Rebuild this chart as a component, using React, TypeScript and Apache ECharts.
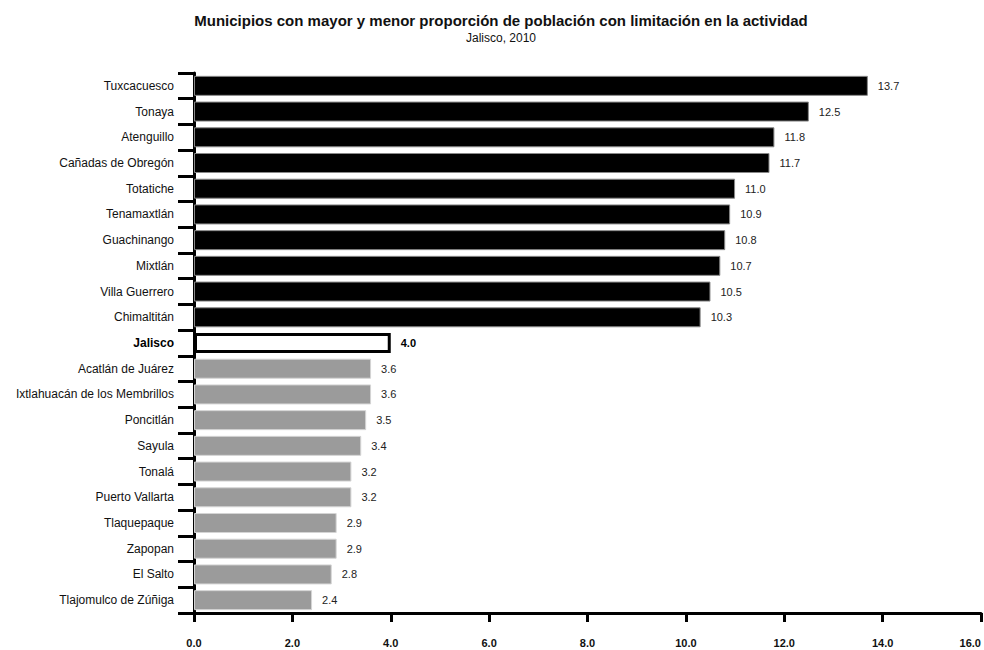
import React, { useEffect, useRef } from "react";
import * as echarts from "echarts";

const categories = [
  "Tuxcacuesco", "Tonaya", "Atenguillo", "Cañadas de Obregón", "Totatiche",
  "Tenamaxtlán", "Guachinango", "Mixtlán", "Villa Guerrero", "Chimaltitán",
  "Jalisco", "Acatlán de Juárez", "Ixtlahuacán de los Membrillos", "Poncitlán",
  "Sayula", "Tonalá", "Puerto Vallarta", "Tlaquepaque", "Zapopan", "El Salto",
  "Tlajomulco de Zúñiga",
];
const values = [13.7, 12.5, 11.8, 11.7, 11.0, 10.9, 10.8, 10.7, 10.5, 10.3, 4.0, 3.6, 3.6, 3.5, 3.4, 3.2, 3.2, 2.9, 2.9, 2.8, 2.4];
const groups = ["high", "high", "high", "high", "high", "high", "high", "high", "high", "high", "state", "low", "low", "low", "low", "low", "low", "low", "low", "low", "low"];
const xTicks = [0, 2, 4, 6, 8, 10, 12, 14, 16];

const FONT = "Liberation Sans, Arial, sans-serif";

export default function App() {
  const ref = useRef<HTMLDivElement>(null);
  useEffect(() => {
    if (!ref.current) return;
    const chart = echarts.init(ref.current, null, { renderer: "svg" });
    const data = values.map((v, i) => {
      const g = groups[i];
      if (g === "high") {
        return { value: v, itemStyle: { color: "#000", borderColor: "#888", borderWidth: 1 } };
      }
      if (g === "state") {
        return {
          value: v,
          itemStyle: { color: "#fff", borderColor: "#000", borderWidth: 3 },
          label: { fontWeight: "bold", color: "#000" },
        };
      }
      return { value: v, itemStyle: { color: "#9b9b9b", borderColor: "#d4d4d4", borderWidth: 1 } };
    });
    chart.setOption({
      animation: false,
      backgroundColor: "#fff",
      title: {
        text: "Municipios con mayor y menor proporción de población con limitación en la actividad",
        subtext: "Jalisco, 2010",
        left: 496,
        textAlign: "center",
        top: 8,
        itemGap: 4,
        textStyle: { fontFamily: FONT, fontSize: 15, fontWeight: "bold", color: "#111" },
        subtextStyle: { fontFamily: FONT, fontSize: 12, color: "#111" },
      },
      grid: { left: 194, right: 1, top: 73, bottom: 37, containLabel: false },
      xAxis: {
        type: "value",
        min: xTicks[0],
        max: xTicks[xTicks.length - 1],
        interval: 2,
        splitLine: { show: false },
        axisLine: { show: true, lineStyle: { color: "#000", width: 3 } },
        axisTick: { show: true, length: 9, lineStyle: { color: "#000", width: 3 } },
        axisLabel: {
          margin: 24,
          fontFamily: FONT,
          fontSize: 11,
          fontWeight: "bold",
          color: "#111",
          alignMaxLabel: "right",
          formatter: (v: number) => v.toFixed(1),
        },
      },
      yAxis: {
        type: "category",
        data: categories,
        inverse: true,
        axisLine: { show: true, lineStyle: { color: "#000", width: 3 } },
        axisTick: { show: true, length: 16, lineStyle: { color: "#000", width: 3 } },
        axisLabel: {
          margin: 20,
          fontFamily: FONT,
          fontSize: 12,
          color: "#111",
          formatter: (v: string) => (v === "Jalisco" ? "{b|" + v + "}" : v),
          rich: { b: { fontFamily: FONT, fontSize: 12, fontWeight: "bold", color: "#000" } },
        },
      },
      series: [
        {
          type: "bar",
          data,
          barWidth: 20,
          label: {
            show: true,
            position: "right",
            distance: 10,
            fontFamily: FONT,
            fontSize: 11,
            color: "#222",
            formatter: (p: any) => Number(p.value).toFixed(1),
          },
        },
      ],
    });
    return () => chart.dispose();
  }, []);
  return <div ref={ref} style={{ width: 984, height: 650, position: "absolute", left: 0, top: 0 }} />;
}
